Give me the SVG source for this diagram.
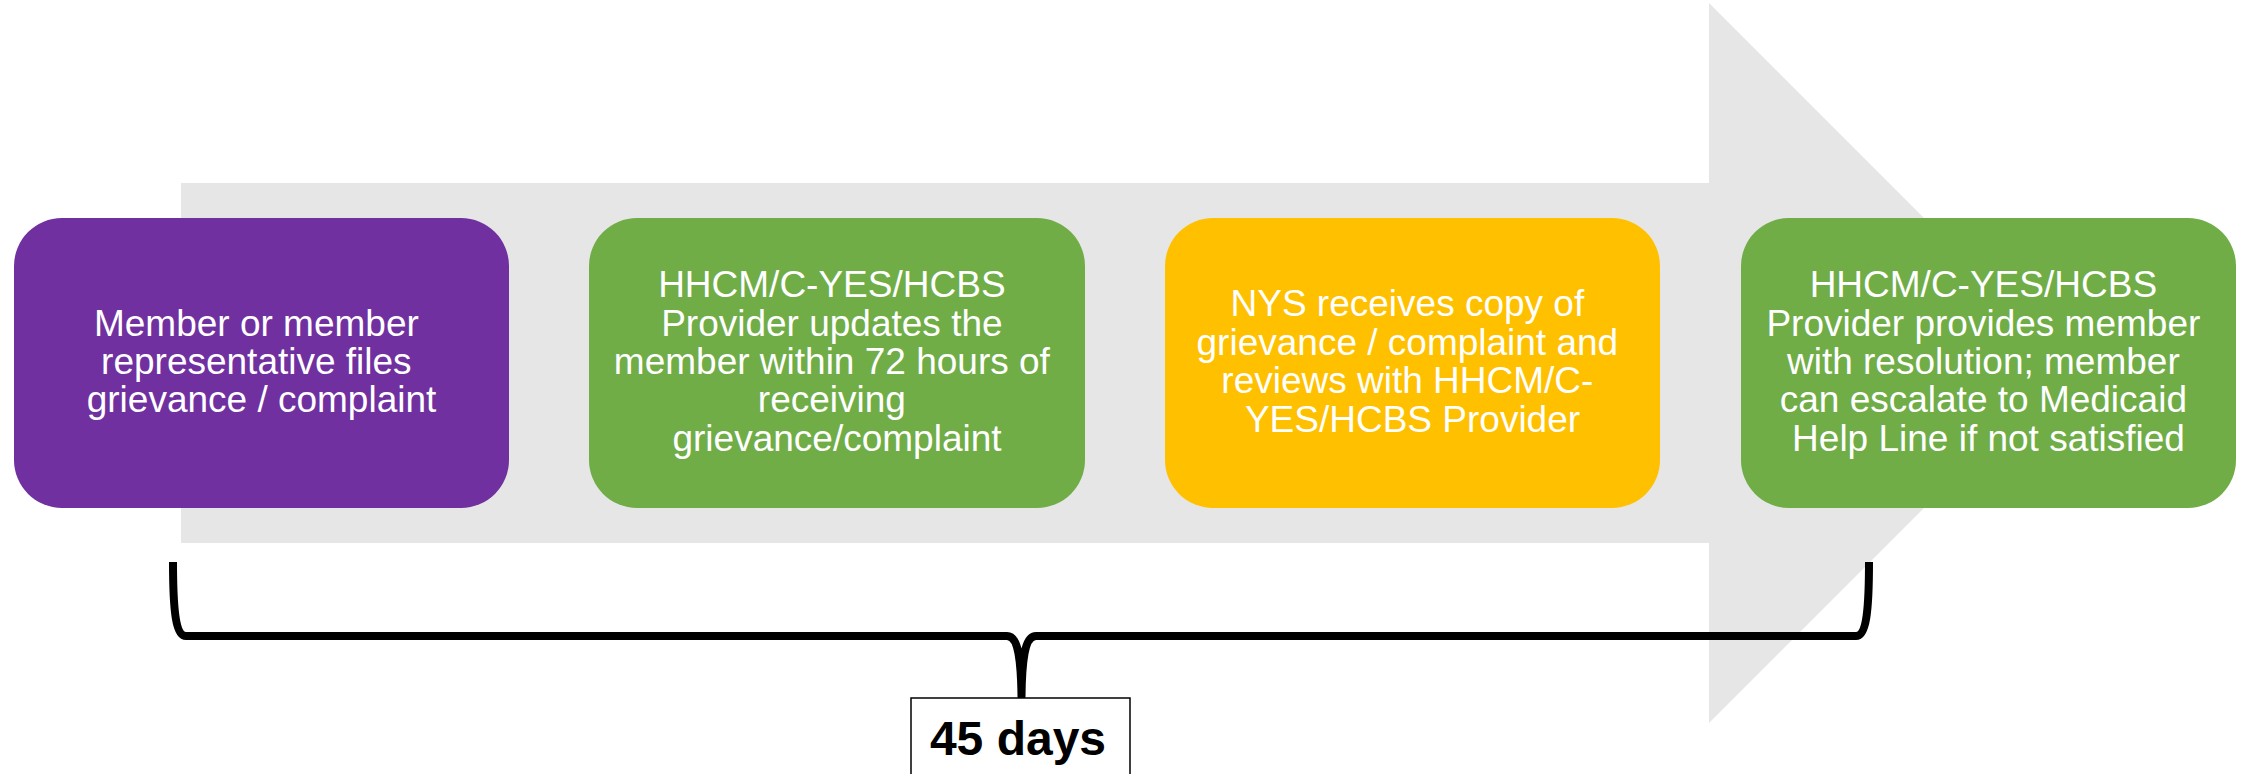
<svg xmlns="http://www.w3.org/2000/svg" width="2244" height="774" viewBox="0 0 2244 774">
  <style>
    .box { stroke: none; }
    .purple { fill: #7030A0; }
    .green { fill: #70AD47; }
    .yellow { fill: #FFC000; }
    .txt { font-family: "Liberation Sans", Arial, sans-serif; font-size: 37px; fill: #FFFFFF; text-anchor: middle; }
    .brace { fill: none; stroke: #000000; stroke-width: 8; stroke-linejoin: round; stroke-linecap: butt; }
    .label { font-family: "Liberation Sans", Arial, sans-serif; font-size: 48px; font-weight: bold; fill: #000000; text-anchor: middle; }
  </style>
  <rect width="2244" height="774" fill="#FFFFFF"/>
  <g id="timeline-arrow">
    <polygon points="181,183 1709,183 1709,3 2069,363 1709,723 1709,543 181,543" fill="#E6E6E6"/>
  </g>
  <g id="node-file">
    <rect class="box purple" x="14" y="218" width="495" height="290" rx="48" ry="48"/>
    <text class="txt">
      <tspan x="261.5" y="335.6">Member or member</tspan>
      <tspan x="261.5" y="374">representative files</tspan>
      <tspan x="261.5" y="412.4">grievance / complaint</tspan>
    </text>
  </g>
  <g id="node-update">
    <rect class="box green" x="589" y="218" width="496" height="290" rx="48" ry="48"/>
    <text class="txt">
      <tspan x="837" y="297.2">HHCM/C-YES/HCBS</tspan>
      <tspan x="837" y="335.6">Provider updates the</tspan>
      <tspan x="837" y="374">member within 72 hours of</tspan>
      <tspan x="837" y="412.4">receiving</tspan>
      <tspan x="837" y="450.8">grievance/complaint</tspan>
    </text>
  </g>
  <g id="node-nys">
    <rect class="box yellow" x="1165" y="218" width="495" height="290" rx="48" ry="48"/>
    <text class="txt">
      <tspan x="1412.5" y="316.4">NYS receives copy of</tspan>
      <tspan x="1412.5" y="354.8">grievance / complaint and</tspan>
      <tspan x="1412.5" y="393.2">reviews with HHCM/C-</tspan>
      <tspan x="1412.5" y="431.6">YES/HCBS Provider</tspan>
    </text>
  </g>
  <g id="node-resolution">
    <rect class="box green" x="1741" y="218" width="495" height="290" rx="48" ry="48"/>
    <text class="txt">
      <tspan x="1988.5" y="297.2">HHCM/C-YES/HCBS</tspan>
      <tspan x="1988.5" y="335.6">Provider provides member</tspan>
      <tspan x="1988.5" y="374">with resolution; member</tspan>
      <tspan x="1988.5" y="412.4">can escalate to Medicaid</tspan>
      <tspan x="1988.5" y="450.8">Help Line if not satisfied</tspan>
    </text>
  </g>
  <g id="connectors">
    <path class="brace" d="M173,562 C173,612 176,636 186,636 L1007,636 C1016,636 1021,650 1021.5,697 C1022,650 1027,636 1036,636 L1856,636 C1866,636 1869,612 1869,562"/>
  </g>
  <g id="label-45-days">
    <rect x="911" y="698" width="219" height="100" fill="#FFFFFF" stroke="#000000" stroke-width="1.5"/>
    <text class="label" x="1018" y="755">45 days</text>
  </g>
</svg>
